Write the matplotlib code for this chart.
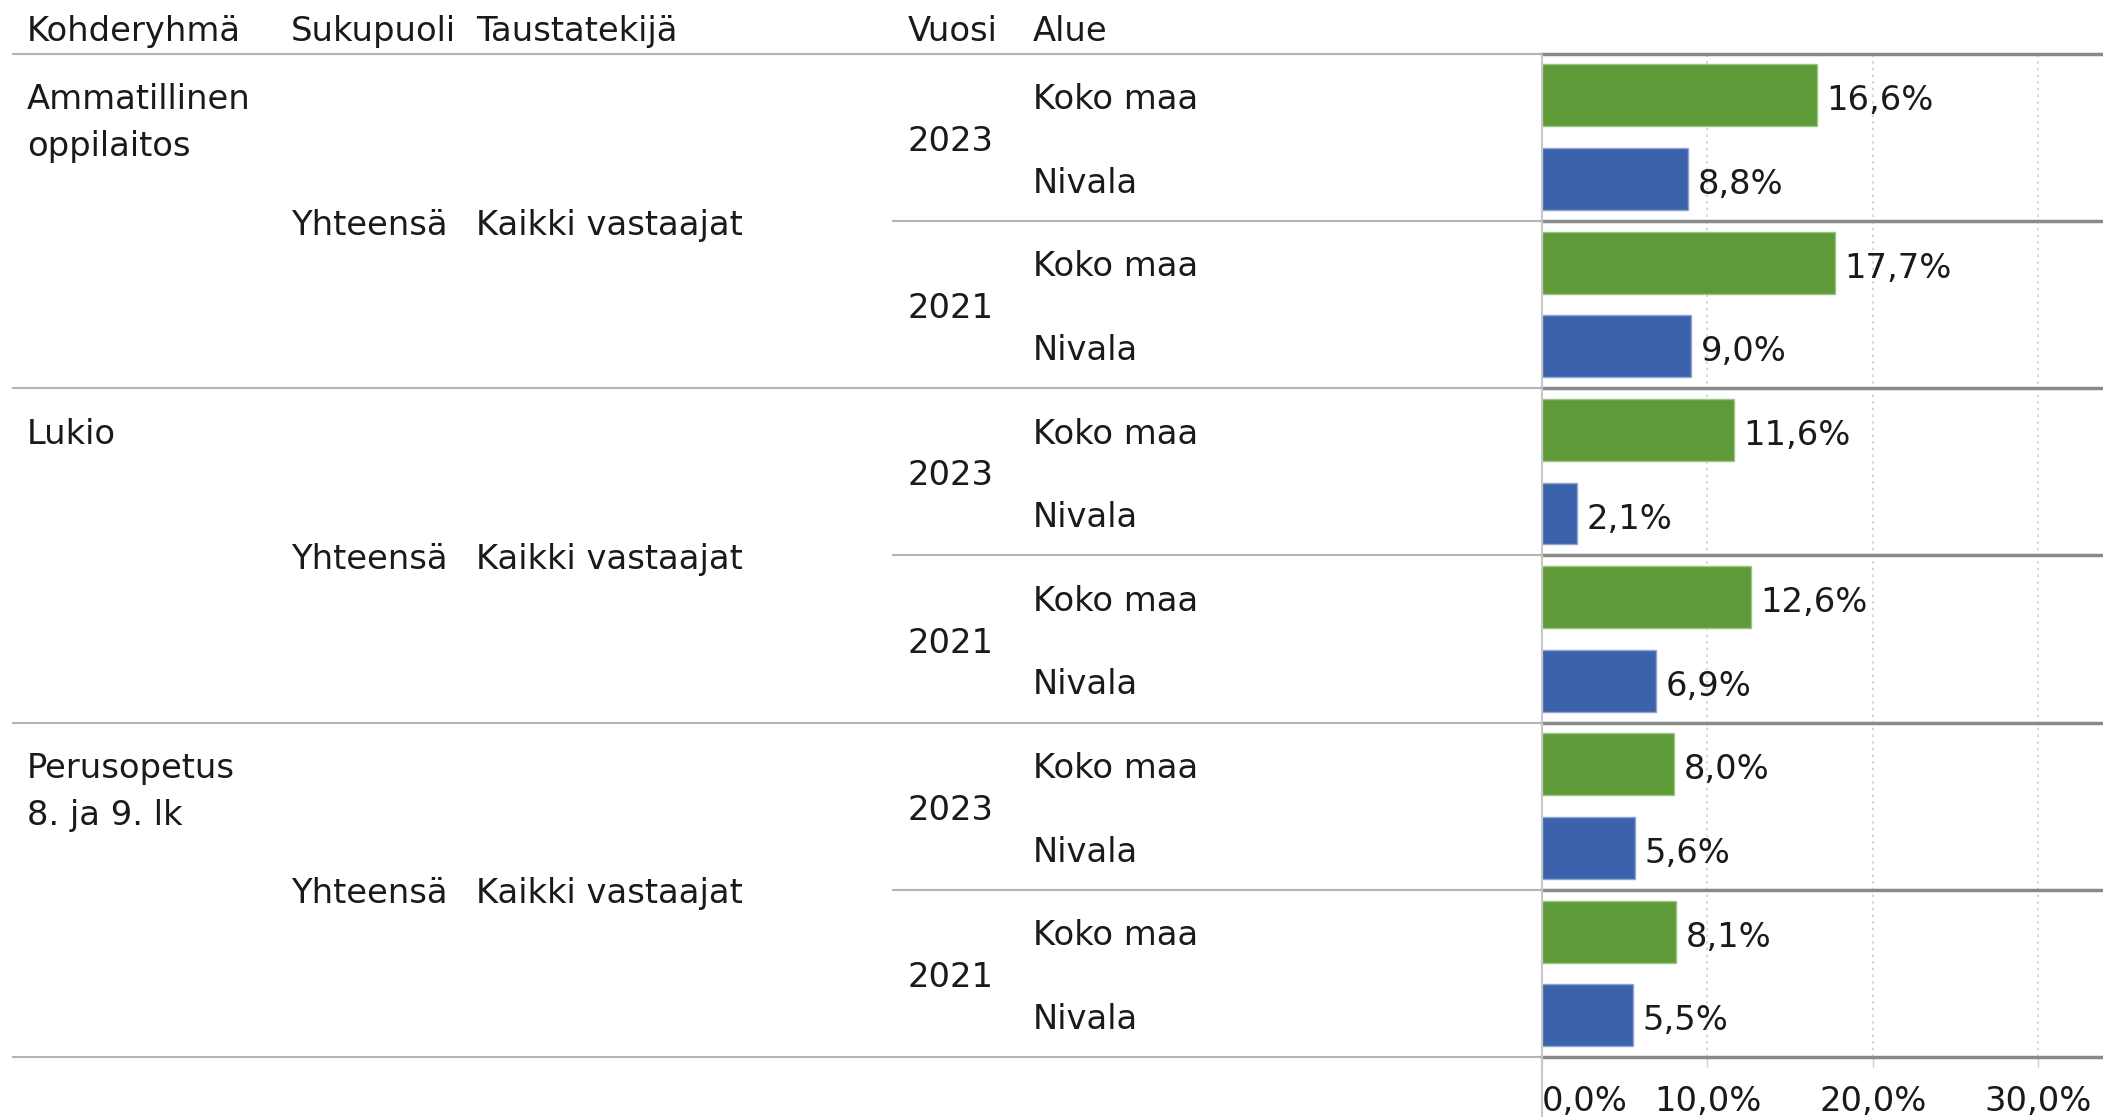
import matplotlib.pyplot as plt

# Data
groups = ['Ammatillinen\noppilaitos', 'Lukio', 'Perusopetus\n8. ja 9. lk']
gender = 'Yhteensä'
background = 'Kaikki vastaajat'
years = ['2023', '2021']
areas = ['Koko maa', 'Nivala']
# per group: [2023 Koko maa, 2023 Nivala, 2021 Koko maa, 2021 Nivala]
values = [
    [16.6, 8.8, 17.7, 9.0],
    [11.6, 2.1, 12.6, 6.9],
    [8.0, 5.6, 8.1, 5.5],
]
headers = ['Kohderyhmä', 'Sukupuoli', 'Taustatekijä', 'Vuosi', 'Alue']
xticks = [0, 10, 20, 30]

area_colors = {'Koko maa': '#5e9b38', 'Nivala': '#3c62ab'}
area_edges = {'Koko maa': '#9cc585', 'Nivala': '#8fa6d3'}

plt.rcParams['font.family'] = 'DejaVu Sans'
FS = 24.3
TXT = '#1a1a1a'
LIGHT = '#b4b4b4'
DARK = '#8a8a8a'
GRID = '#cfcfcf'
DY = 0.05  # small baseline nudge for the table texts

W, H = 2103, 1117
top_px, bot_px, x0_px = 53.6, 1057, 1542

fig = plt.figure(figsize=(W / 100, H / 100), dpi=100)
ax = fig.add_axes([x0_px / W, 1 - bot_px / H, 1 - x0_px / W, (bot_px - top_px) / H])
tab = fig.add_axes([0, 1 - bot_px / H, x0_px / W, (bot_px - top_px) / H])

nrows = len(groups) * len(years) * len(areas)
tab.set_xlim(0, x0_px)
tab.set_ylim(nrows, 0)
tab.axis('off')
ax.set_xlim(0, 33.9)
ax.set_ylim(nrows, 0)

# bars
for gi, g in enumerate(groups):
    for yi, yr in enumerate(years):
        for ai, ar in enumerate(areas):
            r = gi * 4 + yi * 2 + ai
            v = values[gi][yi * 2 + ai]
            ax.barh(r + 0.5, v, height=0.74, color=area_colors[ar],
                    edgecolor=area_edges[ar], linewidth=1, zorder=3)
            ax.annotate(f'{v:.1f}%'.replace('.', ','), (v, r + 0.5),
                        xytext=(7, -4), textcoords='offset points',
                        va='center', ha='left', fontsize=FS, color=TXT)
            tab.text(1033, r + 0.5 + DY, ar, va='center', fontsize=FS, color=TXT)
        tab.text(908, gi * 4 + yi * 2 + 1 + DY, yr, va='center', fontsize=FS, color=TXT)
    for li, line in enumerate(g.split('\n')):
        tab.text(27, gi * 4 + 0.5 + li * 0.56 + DY, line, va='center',
                 fontsize=FS, color=TXT)
    tab.text(291, gi * 4 + 2 + DY, gender, va='center', fontsize=FS, color=TXT)
    tab.text(476, gi * 4 + 2 + DY, background, va='center', fontsize=FS, color=TXT)

# headers
for hx, h in zip([27, 291, 476, 908, 1033], headers):
    tab.text(hx, -0.26, h, va='center', fontsize=FS, color=TXT, clip_on=False)

# separators
for y in range(0, nrows + 1, 4):
    tab.hlines(y, 12, x0_px, color=LIGHT, lw=1.5, clip_on=False)
    ax.axhline(y, color=DARK, lw=2.5, clip_on=False, zorder=4)
for y in range(2, nrows, 4):
    tab.hlines(y, 892, x0_px, color=LIGHT, lw=1.5)
    ax.axhline(y, color=DARK, lw=2.5, zorder=4)

# axis styling
for s in ax.spines.values():
    s.set_visible(False)
ax.set_xticks(xticks)
lbls = ax.set_xticklabels([f'{t:.1f}%'.replace('.', ',') for t in xticks])
lbls[0].set_horizontalalignment('left')
ax.tick_params(axis='x', length=7, width=1, color=GRID, labelsize=FS,
               labelcolor=TXT, pad=13)
ax.tick_params(axis='y', left=False, labelleft=False)
ax.grid(axis='x', linestyle=(0, (1.5, 2.5)), color=GRID, lw=1.2)
ax.set_axisbelow(True)
ax.vlines(0, 0, nrows + 0.75, color='#c8c8c8', lw=1.5, clip_on=False, zorder=5)

fig.savefig('out.png', dpi=100)
